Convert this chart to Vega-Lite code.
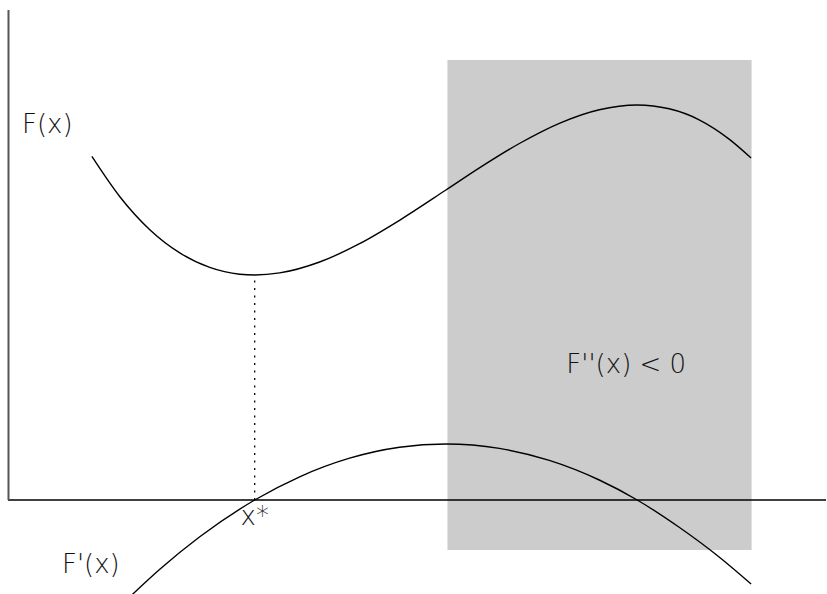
{
  "$schema": "https://vega.github.io/schema/vega-lite/v6.json",
  "width": 827,
  "height": 594,
  "autosize": {"type": "fit", "contains": "padding"},
  "padding": 0,
  "background": "white",
  "config": {"view": {"stroke": null}},
  "datasets": {
    "region": [{"x0": 448, "x1": 752.5, "y0": -50, "y1": 440}],
    "hline": [{"x0": 8, "x1": 827, "y": 0}],
    "vline": [{"x": 8.5, "y0": 0, "y1": 490}],
    "dotted": [{"x": 255, "y0": 0, "y1": 225}],
    "F": [
      {"x": 92, "y": 343.6}, {"x": 120, "y": 303.3}, {"x": 150, "y": 270.3},
      {"x": 180, "y": 247.1}, {"x": 210, "y": 232.6}, {"x": 240, "y": 225.8},
      {"x": 255, "y": 225}, {"x": 280, "y": 227.1}, {"x": 320, "y": 238},
      {"x": 360, "y": 256.3}, {"x": 400, "y": 279.7}, {"x": 446.5, "y": 310},
      {"x": 480, "y": 332.1}, {"x": 520, "y": 356.5}, {"x": 560, "y": 376.7},
      {"x": 600, "y": 390.3}, {"x": 638, "y": 395}, {"x": 670, "y": 391.2},
      {"x": 700, "y": 380.2}, {"x": 730, "y": 360.9}, {"x": 752, "y": 342}
    ],
    "Fp": [
      {"x": 132, "y": -95}, {"x": 160, "y": -69.3}, {"x": 200, "y": -36.8},
      {"x": 255, "y": 0}, {"x": 300, "y": 23.2}, {"x": 350, "y": 41.8},
      {"x": 400, "y": 52.7}, {"x": 446.5, "y": 56}, {"x": 500, "y": 51.6},
      {"x": 550, "y": 39.6}, {"x": 600, "y": 20}, {"x": 638, "y": 0},
      {"x": 680, "y": -27.3}, {"x": 720, "y": -57}, {"x": 752, "y": -84}
    ],
    "leftLabels": [
      {"x": 22, "y": 367, "text": "F(x)"},
      {"x": 62, "y": -73, "text": "F'(x)"}
    ],
    "centerLabels": [
      {"x": 255, "y": -25, "text": "x*"},
      {"x": 627, "y": 127, "text": "F''(x) < 0"}
    ]
  },
  "encoding": {},
  "layer": [
    {
      "data": {"name": "region"},
      "mark": {"type": "rect", "color": "#cccccc"},
      "encoding": {
        "x": {"field": "x0", "type": "quantitative", "scale": {"domain": [0, 827], "nice": false, "zero": false}, "axis": null},
        "x2": {"field": "x1"},
        "y": {"field": "y0", "type": "quantitative", "scale": {"domain": [-94, 500], "nice": false, "zero": false}, "axis": null},
        "y2": {"field": "y1"}
      }
    },
    {
      "data": {"name": "hline"},
      "mark": {"type": "rule", "color": "#000000", "strokeWidth": 1.5},
      "encoding": {
        "x": {"field": "x0", "type": "quantitative"},
        "x2": {"field": "x1"},
        "y": {"field": "y", "type": "quantitative"}
      }
    },
    {
      "data": {"name": "vline"},
      "mark": {"type": "rule", "color": "#555555", "strokeWidth": 2},
      "encoding": {
        "x": {"field": "x", "type": "quantitative"},
        "y": {"field": "y0", "type": "quantitative"},
        "y2": {"field": "y1"}
      }
    },
    {
      "data": {"name": "dotted"},
      "mark": {"type": "rule", "color": "#000000", "strokeWidth": 1.3, "strokeDash": [2, 5.5]},
      "encoding": {
        "x": {"field": "x", "type": "quantitative"},
        "y": {"field": "y0", "type": "quantitative"},
        "y2": {"field": "y1"}
      }
    },
    {
      "data": {"name": "F"},
      "mark": {"type": "line", "color": "#000000", "strokeWidth": 1.4, "interpolate": "monotone"},
      "encoding": {
        "x": {"field": "x", "type": "quantitative"},
        "y": {"field": "y", "type": "quantitative"}
      }
    },
    {
      "data": {"name": "Fp"},
      "mark": {"type": "line", "color": "#000000", "strokeWidth": 1.4, "interpolate": "monotone", "clip": true},
      "encoding": {
        "x": {"field": "x", "type": "quantitative"},
        "y": {"field": "y", "type": "quantitative"}
      }
    },
    {
      "data": {"name": "leftLabels"},
      "mark": {"type": "text", "font": "DejaVu Sans", "fontSize": 26, "fontWeight": 200, "color": "#111111", "baseline": "alphabetic", "align": "left"},
      "encoding": {
        "x": {"field": "x", "type": "quantitative"},
        "y": {"field": "y", "type": "quantitative"},
        "text": {"field": "text"}
      }
    },
    {
      "data": {"name": "centerLabels"},
      "mark": {"type": "text", "font": "DejaVu Sans", "fontSize": 26, "fontWeight": 200, "color": "#111111", "baseline": "alphabetic", "align": "center"},
      "encoding": {
        "x": {"field": "x", "type": "quantitative"},
        "y": {"field": "y", "type": "quantitative"},
        "text": {"field": "text"}
      }
    }
  ]
}
